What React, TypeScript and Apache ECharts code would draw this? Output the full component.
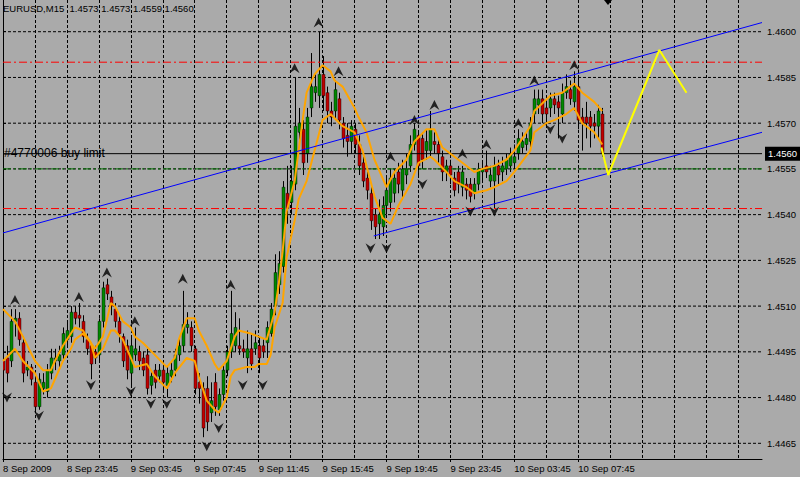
import React, { useEffect, useRef } from "react";
import * as echarts from "echarts";

const FONT = "'Liberation Sans', Arial, sans-serif";
const FS = 9.5;

const priceTicks = [1.4465, 1.448, 1.4495, 1.451, 1.4525, 1.454, 1.4555, 1.457, 1.4585, 1.46];
const timeTickIndex = [0, 16, 32, 48, 64, 80, 96, 112, 128, 144];
const timeTickLabels = ["8 Sep 2009", "8 Sep 23:45", "9 Sep 03:45", "9 Sep 07:45", "9 Sep 11:45", "9 Sep 15:45", "9 Sep 19:45", "9 Sep 23:45", "10 Sep 03:45", "10 Sep 07:45"];
const SLOTS = 191;

const opens = [1.4492,1.4493,1.4492,1.4505,1.4506,1.4498,1.4489,1.4490,1.4485,1.4477,1.4483,1.4482,1.4488,1.4492,1.4492,1.4494,1.4499,1.4500,1.4508,1.4507,1.4505,1.4499,1.4497,1.4495,1.4494,1.4505,1.4517,1.4513,1.4509,1.4505,1.4500,1.4497,1.4488,1.4494,1.4495,1.4493,1.4494,1.4484,1.4489,1.4487,1.4489,1.4484,1.4487,1.4489,1.4494,1.4497,1.4503,1.4503,1.4496,1.4485,1.4483,1.4483,1.4475,1.4485,1.4476,1.4481,1.4489,1.4495,1.4497,1.4497,1.4496,1.4493,1.4496,1.4496,1.4497,1.4497,1.4498,1.4501,1.4510,1.4517,1.4523,1.4547,1.4544,1.4550,1.4567,1.4568,1.4560,1.4575,1.4580,1.4579,1.4586,1.4580,1.4574,1.4574,1.4578,1.4570,1.4566,1.4564,1.4568,1.4563,1.4557,1.4552,1.4547,1.4540,1.4537,1.4536,1.4543,1.4544,1.4547,1.4554,1.4548,1.4553,1.4556,1.4563,1.4566,1.4565,1.4561,1.4561,1.4564,1.4563,1.4559,1.4554,1.4556,1.4552,1.4554,1.4549,1.4550,1.4550,1.4547,1.4550,1.4554,1.4556,1.4551,1.4551,1.4556,1.4554,1.4555,1.4556,1.4557,1.4560,1.4562,1.4563,1.4564,1.4573,1.4576,1.4578,1.4575,1.4575,1.4578,1.4577,1.4573,1.4580,1.4581,1.4577,1.4582,1.4572,1.4572,1.4572,1.4570,1.4569,1.4573];
const closes = [1.4489,1.4488,1.4505,1.4506,1.4499,1.4488,1.4490,1.4486,1.4477,1.4486,1.4485,1.4489,1.4493,1.4493,1.4494,1.4501,1.4502,1.4508,1.4506,1.4506,1.4500,1.4496,1.4491,1.4493,1.4505,1.4516,1.4514,1.4510,1.4505,1.4501,1.4492,1.4489,1.4497,1.4496,1.4492,1.4489,1.4483,1.4487,1.4485,1.4489,1.4485,1.4488,1.4489,1.4494,1.4497,1.4504,1.4504,1.4497,1.4483,1.4483,1.4470,1.4472,1.4479,1.4477,1.4481,1.4489,1.4495,1.4501,1.4503,1.4496,1.4495,1.4496,1.4491,1.4498,1.4493,1.4495,1.4503,1.4509,1.4521,1.4524,1.4549,1.4542,1.4551,1.4569,1.4570,1.4557,1.4572,1.4582,1.4582,1.4586,1.4579,1.4574,1.4572,1.4581,1.4571,1.4565,1.4564,1.4569,1.4563,1.4556,1.4551,1.4548,1.4538,1.4536,1.4540,1.4543,1.4548,1.4552,1.4552,1.4550,1.4555,1.4555,1.4563,1.4568,1.4556,1.4558,1.4564,1.4568,1.4563,1.4560,1.4554,1.4556,1.4553,1.4548,1.4550,1.4554,1.4548,1.4546,1.4550,1.4555,1.4555,1.4554,1.4553,1.4556,1.4553,1.4556,1.4558,1.4560,1.4559,1.4565,1.4564,1.4565,1.4570,1.4578,1.4578,1.4573,1.4573,1.4578,1.4576,1.4575,1.4580,1.4582,1.4578,1.4582,1.4571,1.4570,1.4570,1.4569,1.4569,1.4574,1.4560];
const highs = [1.4496,1.4497,1.4509,1.4509,1.4508,1.4500,1.4492,1.4491,1.4487,1.4488,1.4488,1.4491,1.4496,1.4496,1.4497,1.4503,1.4505,1.4510,1.4510,1.4511,1.4507,1.4501,1.4498,1.4497,1.4506,1.4518,1.4519,1.4515,1.4511,1.4507,1.4501,1.4499,1.4500,1.4503,1.4497,1.4495,1.4496,1.4489,1.4491,1.4491,1.4490,1.4490,1.4492,1.4496,1.4500,1.4515,1.4508,1.4505,1.4497,1.4488,1.4485,1.4487,1.4485,1.4488,1.4483,1.4491,1.4497,1.4515,1.4508,1.4506,1.4499,1.4502,1.4501,1.4502,1.4500,1.4499,1.4505,1.4511,1.4527,1.4528,1.4551,1.4556,1.4556,1.4585,1.4575,1.4571,1.4575,1.4593,1.4586,1.4600,1.4592,1.4582,1.4577,1.4584,1.4580,1.4572,1.4570,1.4571,1.4570,1.4566,1.4559,1.4554,1.4549,1.4542,1.4545,1.4546,1.4552,1.4555,1.4555,1.4557,1.4558,1.4560,1.4566,1.4570,1.4567,1.4567,1.4568,1.4574,1.4567,1.4565,1.4561,1.4558,1.4558,1.4554,1.4556,1.4556,1.4552,1.4552,1.4552,1.4557,1.4557,1.4561,1.4556,1.4559,1.4558,1.4559,1.4560,1.4562,1.4563,1.4568,1.4567,1.4567,1.4572,1.4581,1.4581,1.4581,1.4577,1.4580,1.4580,1.4579,1.4583,1.4586,1.4584,1.4587,1.4585,1.4575,1.4577,1.4574,1.4573,1.4576,1.4575];
const lows = [1.4484,1.4485,1.4490,1.4500,1.4497,1.4485,1.4487,1.4484,1.4475,1.4476,1.4481,1.4480,1.4486,1.4489,1.4490,1.4492,1.4497,1.4498,1.4504,1.4503,1.4498,1.4494,1.4486,1.4491,1.4492,1.4503,1.4512,1.4507,1.4503,1.4498,1.4490,1.4486,1.4484,1.4492,1.4489,1.4487,1.4481,1.4481,1.4483,1.4485,1.4482,1.4480,1.4485,1.4487,1.4492,1.4495,1.4501,1.4495,1.4481,1.4478,1.4467,1.4469,1.4472,1.4474,1.4474,1.4479,1.4487,1.4493,1.4495,1.4494,1.4493,1.4488,1.4489,1.4494,1.4488,1.4493,1.4493,1.4500,1.4507,1.4514,1.4521,1.4537,1.4540,1.4548,1.4563,1.4553,1.4557,1.4572,1.4577,1.4575,1.4574,1.4570,1.4569,1.4571,1.4568,1.4562,1.4559,1.4560,1.4560,1.4553,1.4549,1.4545,1.4535,1.4532,1.4532,1.4533,1.4540,1.4541,1.4544,1.4547,1.4545,1.4550,1.4554,1.4561,1.4553,1.4555,1.4558,1.4559,1.4560,1.4557,1.4551,1.4551,1.4550,1.4546,1.4547,1.4546,1.4545,1.4544,1.4545,1.4548,1.4551,1.4552,1.4549,1.4542,1.4550,1.4551,1.4553,1.4554,1.4555,1.4558,1.4560,1.4561,1.4562,1.4570,1.4573,1.4570,1.4569,1.4572,1.4573,1.4565,1.4570,1.4578,1.4576,1.4574,1.4568,1.4561,1.4565,1.4562,1.4565,1.4565,1.4559];

const upperMaIdx = [0,3,5,8,10,12,13,15,17,18,20,22,23,25,27,28,30,32,33,35,38,41,43,44,46,48,49,51,53,54,56,58,59,62,64,66,68,69,70,71,73,74,75,76,78,80,82,83,85,88,89,91,93,96,98,101,103,106,108,110,113,115,118,120,123,126,128,132,133,137,140,143,145,148,150];
const upperMaVal = [1.4509,1.4505,1.4500,1.4492,1.4489,1.4489,1.4492,1.4497,1.4501,1.4503,1.4502,1.4498,1.4496,1.4500,1.4511,1.4510,1.4505,1.4503,1.4500,1.4498,1.4494,1.4490,1.4493,1.4499,1.4506,1.4506,1.4502,1.4497,1.4491,1.4489,1.4492,1.4500,1.4502,1.4501,1.4500,1.4499,1.4508,1.4517,1.4528,1.4541,1.4551,1.4561,1.4571,1.4580,1.4586,1.4589,1.4587,1.4584,1.4582,1.4575,1.4572,1.4567,1.4558,1.4549,1.4554,1.4558,1.4564,1.4568,1.4568,1.4562,1.4559,1.4557,1.4554,1.4555,1.4556,1.4558,1.4561,1.4569,1.4574,1.4579,1.4580,1.4583,1.4580,1.4577,1.4574];
const lowerMaIdx = [0,3,5,8,10,12,13,15,17,18,20,22,23,25,27,28,30,32,33,36,38,41,43,46,48,49,51,53,54,56,57,58,61,63,64,66,67,68,70,71,73,74,76,78,80,82,85,88,90,93,95,97,99,102,104,107,108,111,113,116,118,121,123,126,128,132,133,136,138,141,143,145,148,150];
const lowerMaVal = [1.4492,1.4496,1.4492,1.4488,1.4482,1.4483,1.4486,1.4492,1.4496,1.4499,1.4501,1.4498,1.4493,1.4496,1.4502,1.4502,1.4499,1.4493,1.4490,1.4491,1.4487,1.4483,1.4488,1.4493,1.4492,1.4487,1.4479,1.4476,1.4475,1.4480,1.4487,1.4489,1.4490,1.4490,1.4491,1.4491,1.4494,1.4503,1.4511,1.4526,1.4538,1.4545,1.4551,1.4561,1.4571,1.4573,1.4569,1.4567,1.4561,1.4546,1.4539,1.4537,1.4543,1.4550,1.4557,1.4559,1.4558,1.4554,1.4551,1.4549,1.4547,1.4548,1.4549,1.4551,1.4554,1.4561,1.4567,1.4570,1.4571,1.4573,1.4575,1.4570,1.4567,1.4563];

const upFractalIdx = [3,19,26,33,45,57,73,79,84,97,103,108,115,121,129,133,143];
const upFractalVal = [1.4512,1.4513,1.4521,1.4505,1.4519,1.4517,1.4588,1.4603,1.4587,1.4559,1.4571,1.4576,1.4560,1.4563,1.4570,1.4584,1.4589];
const downFractalIdx = [1,9,22,32,37,41,51,54,60,65,92,96,105,117,123,137,140];
const downFractalVal = [1.4480,1.4474,1.4484,1.4482,1.4478,1.4478,1.4464,1.4470,1.4484,1.4484,1.4529,1.4529,1.4550,1.4541,1.4541,1.4568,1.4565];

const channelTopIdx = [0, 190];
const channelTopVal = [1.4534, 1.4603];
const channelBottomIdx = [92.8, 190];
const channelBottomVal = [1.4533, 1.4567];
const forecastIdx = [149.8, 151.5, 164.3, 171.1];
const forecastVal = [1.4562, 1.4553, 1.4594, 1.4580];

const stopLevels = [1.459, 1.4542];
const orderLevel = 1.4555;
const bidLevel = 1.456;
const Y_MIN = 1.445985;
const Y_MAX = 1.46104;

const BULL = "#008800";
const BEAR = "#c00000";

const pairs = (xs: number[], ys: number[]) => xs.map((x, i) => [x, ys[i]]);

export default function App() {
  const ref = useRef<HTMLDivElement>(null);
  useEffect(() => {
    if (!ref.current) return;
    const chart = echarts.init(ref.current, null, { renderer: "svg" });
    const cats = Array.from({ length: SLOTS }, (_, i) => String(i));
    const labelMap: Record<number, string> = {};
    timeTickIndex.forEach((ix, k) => (labelMap[ix] = timeTickLabels[k]));
    const candles = opens.map((o, i) => [i, o, closes[i], lows[i], highs[i]]);
    const hline = (v: number) => [[0, v], [SLOTS - 1, v]];

    const gridSeries = priceTicks.map((v) => ({
      type: "line", xAxisIndex: 1, data: hline(v), symbol: "none", silent: true, z: 1,
      lineStyle: { color: "#000", width: 1, type: [3, 2] },
    }));
    const stopSeries = stopLevels.map((v) => ({
      type: "line", xAxisIndex: 1, data: hline(v), symbol: "none", silent: true, z: 3,
      lineStyle: { color: "#ff0000", width: 1, type: [8, 3, 2, 3] },
    }));

    const upSym = "path://M5,0 L10,10 L5,6.5 L0,10 Z";
    const downSym = "path://M5,10 L10,0 L5,3.5 L0,0 Z";

    const renderCandle = (_params: any, api: any) => {
      const x = api.value(0);
      const o = api.value(1), c = api.value(2), l = api.value(3), h = api.value(4);
      const pO = api.coord([x, o]);
      const pC = api.coord([x, c]);
      const pL = api.coord([x, l]);
      const pH = api.coord([x, h]);
      const cx = Math.round(pO[0]) + 0.5;
      const top = Math.min(pO[1], pC[1]);
      const bot = Math.max(pO[1], pC[1]);
      const hgt = Math.max(bot - top, 1);
      return {
        type: "group",
        children: [
          { type: "line", shape: { x1: cx, y1: pH[1], x2: cx, y2: pL[1] }, style: { stroke: "#000", lineWidth: 1 } },
          { type: "rect", shape: { x: cx - 1.5, y: top, width: 3, height: hgt }, style: { fill: c >= o ? BULL : BEAR, stroke: "#000", lineWidth: 0.4 } },
        ],
      };
    };

    chart.setOption({
      animation: false,
      backgroundColor: "#aaaaaa",
      textStyle: { fontFamily: FONT },
      title: {
        text: "EURUSD,M15  1.4573 1.4573 1.4559 1.4560",
        left: 3, top: 3, padding: 0,
        textStyle: { fontSize: FS, fontWeight: "normal", color: "#000", fontFamily: FONT },
      },
      grid: { left: 0, top: 0, right: 38, bottom: 18, containLabel: false },
      xAxis: [
        {
          type: "category", data: cats, boundaryGap: false,
          axisLine: { show: true, onZero: false, lineStyle: { color: "#000", width: 1 } },
          axisTick: { show: true, length: 3, interval: (i: number) => labelMap[i] !== undefined, lineStyle: { color: "#000" } },
          axisLabel: {
            show: true, interval: (i: number) => labelMap[i] !== undefined,
            formatter: (_v: string, i: number) => labelMap[i] || "",
            align: "left", color: "#000", fontSize: FS, margin: 4, fontFamily: FONT, hideOverlap: false,
          },
          splitLine: { show: true, interval: (i: number) => i > 0 && i % 8 === 0, lineStyle: { color: "#000", width: 1, type: [3, 2] } },
        },
        { type: "value", min: 0, max: SLOTS - 1, show: false, gridIndex: 0 },
      ],
      yAxis: {
        type: "value", position: "right", min: Y_MIN, max: Y_MAX, scale: true,
        axisLine: { show: true, lineStyle: { color: "#000", width: 1 } },
        axisTick: { show: true, customValues: priceTicks, length: 3, lineStyle: { color: "#000" } },
        axisLabel: { show: true, customValues: priceTicks, formatter: (v: number) => v.toFixed(4), color: "#000", fontSize: FS, margin: 5, fontFamily: FONT },
        splitLine: { show: false },
      },
      graphic: [
        { type: "polygon", shape: { points: [[604, 0], [612, 0], [608, 5]] }, style: { fill: "#000" }, z: 100 },
        { type: "text", left: 4, top: 147, style: { text: "#4770006 buy limit", fill: "#000", fontSize: 12, fontFamily: FONT }, z: 100 },
      ],
      series: [
        ...gridSeries,
        {
          type: "custom", xAxisIndex: 0, data: candles, renderItem: renderCandle, z: 2, clip: true,
          encode: { x: 0, y: [1, 2, 3, 4] },
        },
        ...stopSeries,
        {
          type: "line", xAxisIndex: 1, data: hline(orderLevel), symbol: "none", silent: true, z: 3,
          lineStyle: { color: "#007000", width: 1, type: [8, 3, 2, 3] },
        },
        {
          type: "line", xAxisIndex: 1, data: hline(bidLevel), symbol: "none", silent: true, z: 3,
          lineStyle: { color: "#000", width: 1 },
          endLabel: { show: true, formatter: bidLevel.toFixed(4), color: "#fff", backgroundColor: "#000", padding: [2, 5, 2, 3], fontSize: FS, fontFamily: FONT, distance: 3 },
        },
        { type: "line", xAxisIndex: 1, data: pairs(upperMaIdx, upperMaVal), symbol: "none", z: 4, lineStyle: { color: "#ffa500", width: 2 } },
        { type: "line", xAxisIndex: 1, data: pairs(lowerMaIdx, lowerMaVal), symbol: "none", z: 4, lineStyle: { color: "#ffa500", width: 2 } },
        { type: "line", xAxisIndex: 1, data: pairs(channelTopIdx, channelTopVal), symbol: "none", z: 5, lineStyle: { color: "#0000ff", width: 1 } },
        { type: "line", xAxisIndex: 1, data: pairs(channelBottomIdx, channelBottomVal), symbol: "none", z: 5, lineStyle: { color: "#0000ff", width: 1 } },
        { type: "line", xAxisIndex: 1, data: pairs(forecastIdx, forecastVal), symbol: "none", z: 5, lineStyle: { color: "#ffff00", width: 2 } },
        { type: "scatter", xAxisIndex: 1, data: pairs(upFractalIdx, upFractalVal), symbol: upSym, symbolSize: [10, 10], z: 6, itemStyle: { color: "#000" } },
        { type: "scatter", xAxisIndex: 1, data: pairs(downFractalIdx, downFractalVal), symbol: downSym, symbolSize: [10, 10], z: 6, itemStyle: { color: "#000" } },
      ],
    });
    return () => chart.dispose();
  }, []);
  return <div ref={ref} style={{ position: "fixed", left: 0, top: 0, width: 800, height: 477 }} />;
}
